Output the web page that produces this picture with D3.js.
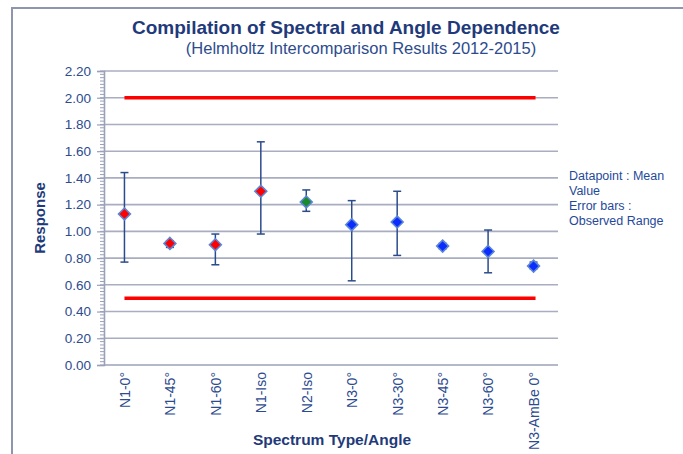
<!DOCTYPE html>
<html>
<head>
<meta charset="utf-8">
<script src="https://cdn.jsdelivr.net/npm/d3@7"></script>
<style>
  body { margin: 0; background: #fff; }
  svg { display: block; font-family: "Liberation Sans", Arial, sans-serif; }
</style>
</head>
<body>
<div id="chart"></div>
<script>
// data
const categories = ['N1-0°', 'N1-45°', 'N1-60°', 'N1-Iso', 'N2-Iso', 'N3-0°', 'N3-30°', 'N3-45°', 'N3-60°', 'N3-AmBe 0°'];
const means = [1.13, 0.91, 0.90, 1.30, 1.22, 1.05, 1.07, 0.89, 0.85, 0.74];
const lows  = [0.77, 0.88, 0.75, 0.98, 1.15, 0.63, 0.82, 0.87, 0.69, 0.72];
const highs = [1.44, 0.93, 0.98, 1.67, 1.31, 1.23, 1.30, 0.91, 1.01, 0.77];
const groups = ['N1', 'N1', 'N1', 'N1', 'N2', 'N3', 'N3', 'N3', 'N3', 'N3'];
const limits = [2.00, 0.50];
const yTicks = [0, 0.2, 0.4, 0.6, 0.8, 1.0, 1.2, 1.4, 1.6, 1.8, 2.0, 2.2];

const W = 683, H = 454;
const margin = { left: 104, right: 129, top: 71, bottom: 89 };

const groupColor = { N1: '#ff0000', N2: '#1a8a2a', N3: '#0a2cff' };
const navy = '#1f3a7a';
const tickColor = '#2d4b8e';

const svg = d3.select('#chart').append('svg')
    .attr('width', W)
    .attr('height', H);

// outer frame (only top and left edges are visible)
svg.append('path')
    .attr('d', `M12,${H} L12,8 L${W},8`)
    .attr('fill', 'none')
    .attr('stroke', '#8f95ad')
    .attr('stroke-width', 2);

const x = d3.scalePoint()
    .domain(categories)
    .range([margin.left, W - margin.right])
    .padding(0.45);

const y = d3.scaleLinear()
    .domain([0, 2.2])
    .range([H - margin.bottom, margin.top]);

// gridlines
svg.append('g')
    .selectAll('line')
    .data(yTicks.slice(1))
    .join('line')
    .attr('x1', margin.left)
    .attr('x2', W - margin.right + 4)
    .attr('y1', d => y(d))
    .attr('y2', d => y(d))
    .attr('stroke', '#a9adc0')
    .attr('stroke-width', 1.6);

// minor ticks on y axis
const minor = d3.range(0, 2.2001, 0.025);
svg.append('g')
    .selectAll('line')
    .data(minor)
    .join('line')
    .attr('x1', margin.left - 4)
    .attr('x2', margin.left)
    .attr('y1', d => y(d))
    .attr('y2', d => y(d))
    .attr('stroke', '#9aa0b8')
    .attr('stroke-width', 1);

// y axis
const yAxis = svg.append('g')
    .attr('transform', `translate(${margin.left},0)`)
    .call(d3.axisLeft(y).tickValues(yTicks).tickFormat(d3.format('.2f')).tickSize(7).tickPadding(6));
yAxis.select('.domain').attr('stroke', '#9aa0b8').attr('stroke-width', 1.6);
yAxis.selectAll('.tick line').attr('stroke', '#9aa0b8').attr('stroke-width', 1.2);
yAxis.selectAll('text')
    .attr('fill', tickColor)
    .style('font-size', '13.5px');

// x axis
const xAxis = svg.append('g')
    .attr('transform', `translate(0,${H - margin.bottom})`)
    .call(d3.axisBottom(x).tickSize(0).tickPadding(0));
xAxis.select('.domain')
    .attr('d', `M${margin.left},0H${W - margin.right + 4}`)
    .attr('stroke', '#9aa0b8')
    .attr('stroke-width', 1.6);
xAxis.selectAll('text')
    .attr('fill', tickColor)
    .style('font-size', '14px')
    .attr('text-anchor', 'end')
    .attr('transform', 'rotate(-90)')
    .attr('x', -7)
    .attr('y', 0)
    .attr('dy', '0.35em');

// limit lines
svg.append('g')
    .selectAll('line')
    .data(limits)
    .join('line')
    .attr('x1', x(categories[0]))
    .attr('x2', x(categories[categories.length - 1]) + 2)
    .attr('y1', d => y(d))
    .attr('y2', d => y(d))
    .attr('stroke', '#ff0000')
    .attr('stroke-width', 3.5);

// error bars
const pts = categories.map((c, i) => ({ c, m: means[i], lo: lows[i], hi: highs[i], g: groups[i] }));
const eb = svg.append('g').attr('stroke', '#2b4c8c').attr('stroke-width', 1.5);
eb.selectAll('.bar').data(pts).join('line')
    .attr('x1', d => x(d.c)).attr('x2', d => x(d.c))
    .attr('y1', d => y(d.lo)).attr('y2', d => y(d.hi));
eb.selectAll('.capHi').data(pts).join('line')
    .attr('x1', d => x(d.c) - 4).attr('x2', d => x(d.c) + 4)
    .attr('y1', d => y(d.hi)).attr('y2', d => y(d.hi));
eb.selectAll('.capLo').data(pts).join('line')
    .attr('x1', d => x(d.c) - 4).attr('x2', d => x(d.c) + 4)
    .attr('y1', d => y(d.lo)).attr('y2', d => y(d.lo));

// diamond markers
svg.append('g')
    .selectAll('path')
    .data(pts)
    .join('path')
    .attr('d', d3.symbol(d3.symbolDiamond2, 90))
    .attr('transform', d => `translate(${x(d.c)},${y(d.m)})`)
    .attr('fill', d => groupColor[d.g])
    .attr('stroke', '#5a86d8')
    .attr('stroke-width', 1.6);

// titles
svg.append('text')
    .attr('x', 346).attr('y', 34)
    .attr('text-anchor', 'middle')
    .attr('fill', navy)
    .style('font-size', '19px')
    .style('font-weight', 'bold')
    .text('Compilation of Spectral and Angle Dependence');
svg.append('text')
    .attr('x', 361).attr('y', 54)
    .attr('text-anchor', 'middle')
    .attr('fill', tickColor)
    .style('font-size', '16.5px')
    .text('(Helmholtz Intercomparison Results 2012-2015)');

// axis titles
svg.append('text')
    .attr('transform', `translate(45,${y(1.1)}) rotate(-90)`)
    .attr('text-anchor', 'middle')
    .attr('fill', navy)
    .style('font-size', '15px')
    .style('font-weight', 'bold')
    .text('Response');
svg.append('text')
    .attr('x', 332).attr('y', 445)
    .attr('text-anchor', 'middle')
    .attr('fill', navy)
    .style('font-size', '15.5px')
    .style('font-weight', 'bold')
    .text('Spectrum Type/Angle');

// note on the right
const note = ['Datapoint : Mean', 'Value', 'Error bars :', 'Observed Range'];
svg.append('g')
    .selectAll('text')
    .data(note)
    .join('text')
    .attr('x', 569)
    .attr('y', (d, i) => 180 + i * 15)
    .attr('fill', '#1f4a9a')
    .style('font-size', '12.5px')
    .text(d => d);
</script>
</body>
</html>
